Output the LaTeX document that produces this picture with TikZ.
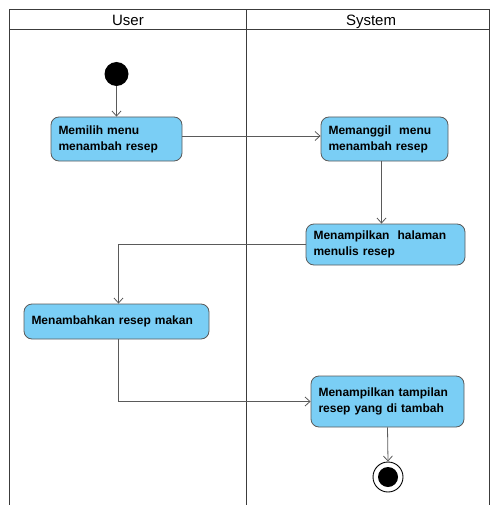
\documentclass[tikz,border=0pt]{standalone}
\usepackage{fontspec}
\setmainfont{Liberation Sans}
\usetikzlibrary{arrows.meta}
\definecolor{actfill}{RGB}{122,206,245}
\definecolor{lanecol}{RGB}{60,60,60}
\definecolor{edgecol}{RGB}{90,90,90}
\begin{document}
\begin{tikzpicture}[x=1pt,y=-1pt,
  lane/.style={draw=lanecol,line width=1pt},
  act/.style={draw=edgecol,fill=actfill,rounded corners=8pt,line width=0.8pt,
    font=\fontsize{12}{16}\selectfont\bfseries,align=left,inner xsep=7.5pt,inner ysep=0pt},
  flow/.style={draw=edgecol,line width=0.8pt,-{Straight Barb[length=5pt,width=9pt]}},
  hdr/.style={font=\fontsize{15}{18}\selectfont,inner sep=0pt,anchor=base}]
\useasboundingbox (0,0) rectangle (491,505);
% swimlanes
\draw[lane] (9.5,505) -- (9.5,9.5) -- (489.5,9.5) -- (489.5,505);
\draw[lane] (9.5,30) -- (489.5,30);
\draw[lane] (246.5,9.5) -- (246.5,505);
\node[hdr] (huser) at (128,25.5) {User};
\node[hdr] (hsys) at (371,25.5) {System};
% start
\node[circle,fill=black,minimum size=24pt,inner sep=0pt] (start) at (116.5,74) {};
% activities
\node[act,minimum width=131pt,minimum height=44pt,text width=116pt] (n1) at (116.5,139) {Memilih menu\\menambah resep};
\node[act,minimum width=127pt,minimum height=44pt,text width=112pt] (n2) at (384.5,139) {Memanggil~ menu\\menambah resep};
\node[act,minimum width=159pt,minimum height=41pt,text width=144pt] (n3) at (385.5,244.5) {Menampilkan~ halaman\\menulis resep};
\node[act,minimum width=185pt,minimum height=35pt,text width=170pt] (n4) at (116.5,321.5) {Menambahkan resep makan};
\node[act,minimum width=153pt,minimum height=51pt,text width=138pt] (n5) at (387.5,401.5) {Menampilkan tampilan\\resep yang di tambah};
% end
\node[circle,draw=black,fill=white,line width=0.9pt,minimum size=30pt,inner sep=0pt] (endo) at (388,477) {};
\node[circle,fill=black,minimum size=20pt,inner sep=0pt] (endi) at (endo.center) {};
% flows
\draw[flow] (start) -- (n1);
\draw[flow] ([yshift=3pt]n1.east) -- ([yshift=3pt]n2.west);
\draw[flow] ([xshift=-3pt]n2.south) -- ([xshift=-3pt]n2.south |- n3.north);
\draw[flow] (n3.west) -| ([xshift=2pt]n4.north);
\draw[flow] ([xshift=2pt]n4.south) |- (n5.west);
\draw[flow] (n5.south) -- (endo.north);
\end{tikzpicture}
\end{document}
